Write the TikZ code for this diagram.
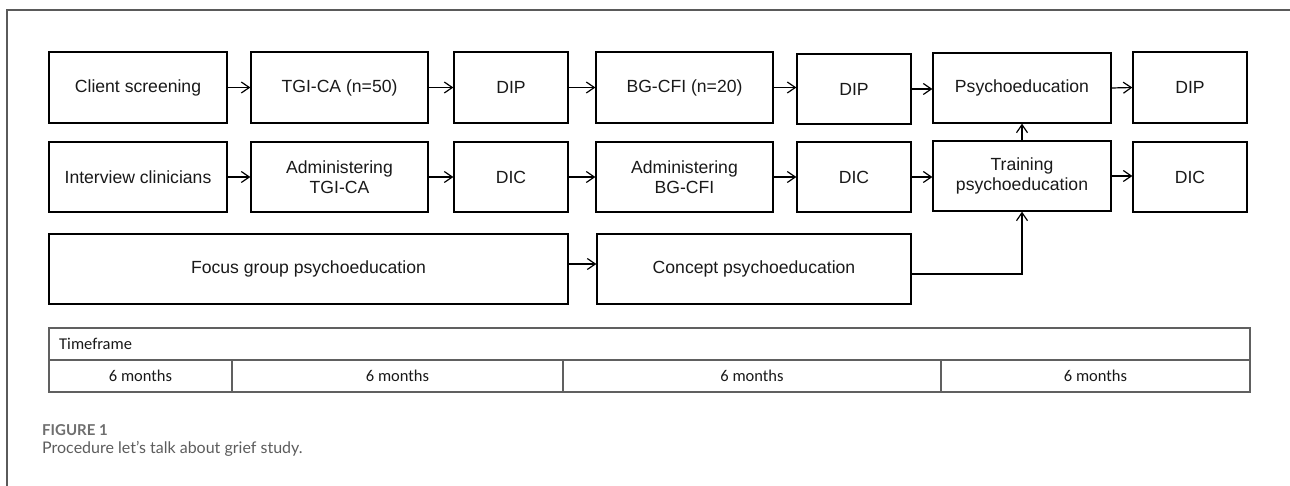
\documentclass[tikz,border=0pt]{standalone}
\usepackage{fontspec}
\setmainfont{Liberation Sans}
\newfontfamily\tablefont{Carlito}
\newfontfamily\capfont{Lato}
\usetikzlibrary{arrows.meta}
\definecolor{framegray}{HTML}{5A5A5A}
\definecolor{tablegray}{HTML}{606060}
\definecolor{capgray}{HTML}{6E6E6E}
\definecolor{captext}{HTML}{5C5C5C}
\tikzset{
  flowbox/.style={draw=black, line width=1.3pt, inner sep=2pt, align=center,
    font=\fontsize{17.6}{20.5}\selectfont, text=black!90},
  flowarrow/.style={line width=1.2pt, -{Straight Barb[length=8pt,width=11pt,line width=1.2pt]}},
  tabline/.style={draw=tablegray, line width=1.1pt},
  tabtext/.style={font=\tablefont\fontsize{16.5}{18}\selectfont, text=black!90, inner sep=0pt},
  framelines/.style={draw=framegray, line width=1.1pt}
}
\newcommand{\fbx}[6]{% name, x1, y1, x2, y2, text
  \node[flowbox, minimum width={#4-#2}, minimum height={#5-#3}] (#1) at ({(#2+#4)/2},{(#3+#5)/2}) {#6};}
\begin{document}
\begin{tikzpicture}[x=1pt,y=-1pt]
\useasboundingbox (0,0) rectangle (1290,486);
% outer frame (top and left)
\draw[framelines] (7,486) -- (7,10) -- (1290,10);
% row 1
\fbx{a1}{49}{52}{227}{123}{Client screening}
\fbx{a2}{251}{52}{428}{123}{TGI-CA (n=50)}
\fbx{a3}{454}{52}{568}{123}{DIP}
\fbx{a4}{596}{52}{773}{123}{BG-CFI (n=20)}
\fbx{a5}{797}{54}{911}{124}{DIP}
\fbx{a6}{933}{53}{1111}{123}{Psychoeducation}
\fbx{a7}{1133}{52}{1247}{123}{DIP}
% row 2
\fbx{b1}{49}{142}{227}{212}{Interview clinicians}
\fbx{b2}{251}{142}{428}{212}{Administering\\TGI-CA}
\fbx{b3}{454}{142}{568}{212}{DIC}
\fbx{b4}{596}{142}{773}{212}{Administering\\BG-CFI}
\fbx{b5}{797}{142}{911}{212}{DIC}
\fbx{b6}{933}{141}{1111}{211}{Training\\psychoeducation}
\fbx{b7}{1133}{142}{1247}{212}{DIC}
% row 3
\fbx{c1}{49}{234}{568}{304}{Focus group psychoeducation}
\fbx{c2}{597}{234}{911}{304}{Concept psychoeducation}
% arrows row 1
\draw[flowarrow] (a1.east) -- (a2.west);
\draw[flowarrow] (a2.east) -- (a3.west);
\draw[flowarrow] (a3.east) -- (a4.west);
\draw[flowarrow] (a4.east) -- (a5.west |- a4.east);
\draw[flowarrow] (a5.east) -- (a6.west |- a5.east);
\draw[flowarrow] (a6.east) -- (a7.west);
% arrows row 2
\draw[flowarrow] (b1.east) -- (b2.west);
\draw[flowarrow] (b2.east) -- (b3.west);
\draw[flowarrow] (b3.east) -- (b4.west);
\draw[flowarrow] (b4.east) -- (b5.west);
\draw[flowarrow] (b5.east) -- (b6.west |- b5.east);
\draw[flowarrow] (b6.east) -- (b7.west |- b6.east);
% vertical
\draw[flowarrow] (b6.north) -- (a6.south);
% row 3
\draw[flowarrow] ([yshift=5pt]c1.east) -- ([yshift=5pt]c2.west);
\coordinate (cbend) at (b6.south |- {(0,274)});
\draw[flowarrow] ([yshift=-5pt]c2.east) -- (cbend) -- (b6.south);
% table
\draw[tabline] (49,328) rectangle (1250,392);
\draw[tabline] (49,360) -- (1250,360);
\draw[tabline] (232,360) -- (232,392);
\draw[tabline] (563,360) -- (563,392);
\draw[tabline] (941,360) -- (941,392);
\node[tabtext, anchor=west] (tf) at (59,344) {Timeframe};
\node[tabtext] (m1) at (140.5,376) {6 months};
\node[tabtext] (m2) at (397.5,376) {6 months};
\node[tabtext] (m3) at (752,376) {6 months};
\node[tabtext] (m4) at (1095.5,376) {6 months};
% caption
\node[anchor=base west, inner sep=0pt, text=capgray, font=\capfont\bfseries\fontsize{15}{18}\selectfont] (fig) at (42,435) {FIGURE 1};
\node[anchor=base west, inner sep=0pt, text=captext, font=\capfont\fontsize{16}{19}\selectfont] (cap) at (42,453) {Procedure let’s talk about grief study.};
\end{tikzpicture}
\end{document}
